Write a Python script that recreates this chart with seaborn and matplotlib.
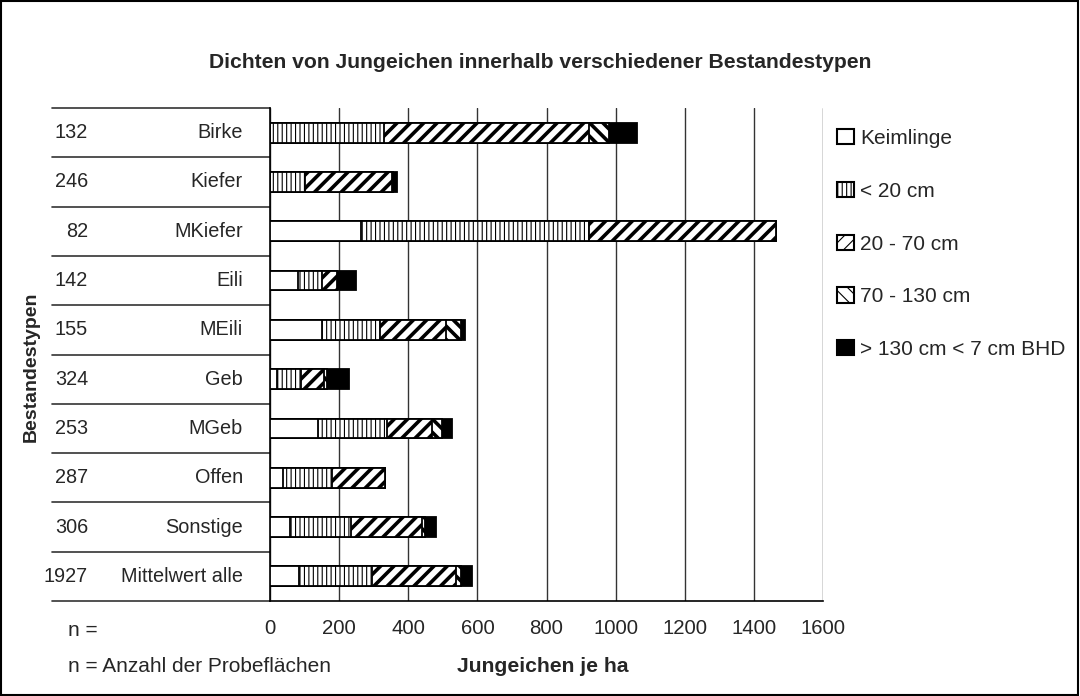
import matplotlib
matplotlib.use("Agg")
import matplotlib.pyplot as plt
import seaborn as sns
import pandas as pd
import numpy as np
from matplotlib.patches import Patch, Rectangle

categories = ["Birke", "Kiefer", "MKiefer", "Eili", "MEili", "Geb", "MGeb",
              "Offen", "Sonstige", "Mittelwert alle"]
n_plots = [132, 246, 82, 142, 155, 324, 253, 287, 306, 1927]
keimlinge = [0, 0, 263, 81, 151, 20, 139, 38, 58, 84]
lt20 = [330, 101, 660, 70, 167, 70, 199, 141, 176, 211]
cm20_70 = [593, 252, 541, 43, 191, 66, 131, 154, 206, 243]
cm70_130 = [58, 3, 0, 0, 44, 9, 29, 0, 8, 15]
gt130 = [81, 12, 0, 55, 11, 64, 29, 0, 32, 32]
series_labels = ["Keimlinge", "< 20 cm", "20 - 70 cm", "70 - 130 cm", "> 130 cm < 7 cm BHD"]
xticks = [0, 200, 400, 600, 800, 1000, 1200, 1400, 1600]

sns.set_theme(style="white")
plt.rcParams["font.family"] = ["Liberation Sans", "DejaVu Sans"]

DPI = 80
S = 100 / DPI  # sizes below are given for a 100-dpi figure
W, H = 1080, 696
fig = plt.figure(figsize=(W / DPI, H / DPI), dpi=DPI)
ax_l, ax_r, ax_t, ax_b = 270, 823, 108, 601
ax = fig.add_axes([ax_l / W, 1 - ax_b / H, (ax_r - ax_l) / W, (ax_b - ax_t) / H])

layers = [keimlinge, lt20, cm20_70, cm70_130, gt130]
cum = np.cumsum(np.array(layers, dtype=float), axis=0)
styles = [  # (face, hatch, hatch linewidth)
    ("white", "", 1.0),
    ("white", "|||", 0.8),
    ("white", "//", 2.6),
    ("white", "\\\\", 2.6),
    ("black", "", 1.0),
]

for i in range(4, -1, -1):
    face, hatch, hlw = styles[i]
    df = pd.DataFrame({"cat": categories, "val": cum[i]})
    with plt.rc_context({"hatch.linewidth": hlw * S, "hatch.color": "black"}):
        sns.barplot(data=df, x="val", y="cat", orient="h", color=face,
                    edgecolor="black", linewidth=1.3 * S, width=0.4, saturation=1,
                    ax=ax, zorder=3)
        cont = ax.containers[-1]
        for p in cont:
            p.set_facecolor(face)
            if hatch:
                p.set_hatch(hatch)
            if hasattr(p, "set_hatch_linewidth"):
                p.set_hatch_linewidth(hlw * S)

ax.set_xlim(0, 1600)
ax.set_ylim(len(categories) - 0.5, -0.5)
ax.set_xticks(xticks)
ax.set_xticklabels([str(v) for v in xticks], fontsize=14.7 * S)
ax.set_yticks([])
ax.set_xlabel("")
ax.set_ylabel("")
ax.xaxis.grid(True, color="#333333", linewidth=1.0 * S)
ax.set_axisbelow(True)
for s in ["top", "right"]:
    ax.spines[s].set_visible(False)
for s in ["left", "bottom"]:
    ax.spines[s].set_color("black")
    ax.spines[s].set_linewidth(1.2 * S)
ax.tick_params(axis="x", direction="out", length=5 * S, width=1 * S, color="black", pad=8 * S)

# left table
x_line0 = (52 - ax_l) / (ax_r - ax_l)
ytr = ax.get_yaxis_transform()
for b in np.arange(-0.5, len(categories), 1.0):
    ax.plot([x_line0, 0], [b, b], color="#333333", lw=1.2 * S, transform=ytr, clip_on=False)
x_n = (88 - ax_l) / (ax_r - ax_l)
x_c = (243 - ax_l) / (ax_r - ax_l)
for i, (c, nn) in enumerate(zip(categories, n_plots)):
    ax.text(x_n, i, str(nn), transform=ytr, ha="right", va="center", fontsize=14.3 * S)
    ax.text(x_c, i, c, transform=ytr, ha="right", va="center", fontsize=14.3 * S)

fig.text(540 / W, 1 - 62 / H, "Dichten von Jungeichen innerhalb verschiedener Bestandestypen",
         ha="center", va="center", fontsize=15.2 * S, fontweight="bold")
fig.text(31 / W, 1 - 367 / H, "Bestandestypen", rotation=90, ha="center", va="center",
         fontsize=14 * S, fontweight="bold")
fig.text(68 / W, 1 - 630 / H, "n =", ha="left", va="center", fontsize=15 * S)
fig.text(68 / W, 1 - 667 / H, "n = Anzahl der Probeflächen", ha="left", va="center",
         fontsize=15 * S)
fig.text(543 / W, 1 - 667 / H, "Jungeichen je ha", ha="center", va="center",
         fontsize=15.2 * S, fontweight="bold")

handles = []
for i, lab in enumerate(series_labels):
    face, hatch, hlw = styles[i]
    with plt.rc_context({"hatch.linewidth": min(hlw, 2.0) * S}):
        h = Patch(facecolor=face, edgecolor="black", hatch=hatch, linewidth=1.5 * S, label=lab)
    handles.append(h)
leg = fig.legend(handles=handles, loc="upper left", bbox_to_anchor=(837 / W, 1 - 129 / H),
                 frameon=False, fontsize=15 * S, handlelength=0.8, handleheight=0.75,
                 handletextpad=0.3, labelspacing=1.62, borderaxespad=0, borderpad=0)

fig.patches.append(Rectangle((0.001, 0.002), 0.997, 0.996, transform=fig.transFigure,
                             fill=False, edgecolor="black", linewidth=1.5 * S))

fig.savefig("out.png", dpi=DPI)
